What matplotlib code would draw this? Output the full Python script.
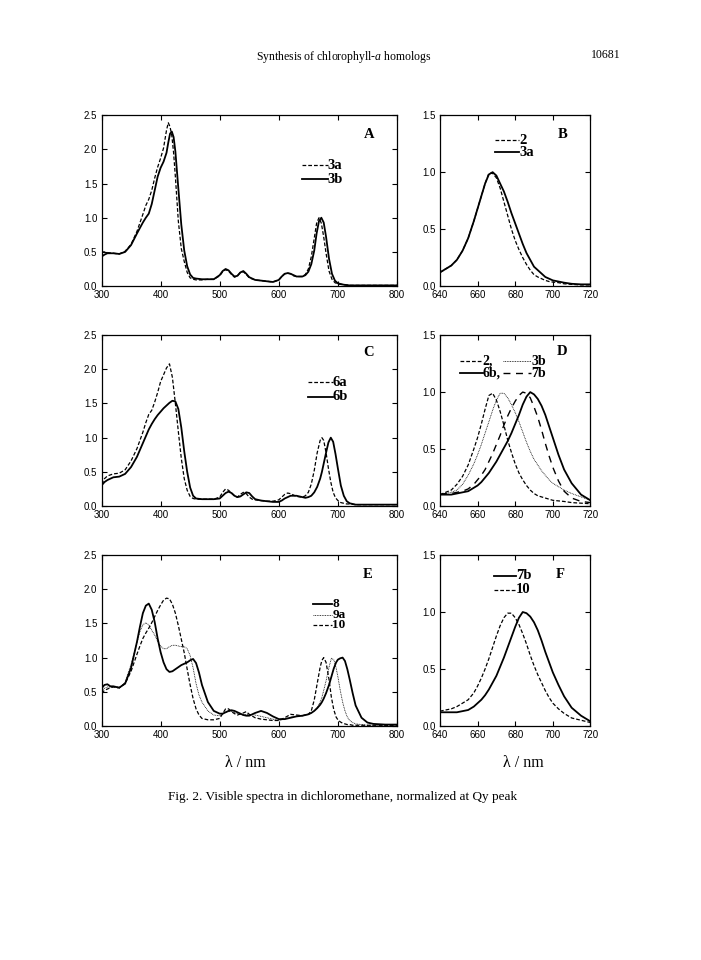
import matplotlib
matplotlib.use("Agg")
import matplotlib.pyplot as plt

plt.rcParams["mathtext.fontset"] = "custom"
plt.rcParams["mathtext.rm"] = "Liberation Serif"
plt.rcParams["mathtext.it"] = "Liberation Serif:italic"

# ---------------- data ----------------

# panel A
WL_A = [300, 305, 310, 320, 330, 340, 350, 360, 370, 375, 380, 385, 390, 395,
        400, 405, 410, 413, 416, 419, 422, 425, 430, 435, 440, 445, 450, 455,
        460, 470, 480, 490, 500, 505, 510, 515, 520, 525, 530, 535, 540, 545,
        550, 560, 570, 580, 590, 600, 605, 610, 615, 620, 625, 630, 640, 645,
        650, 655, 660, 664, 668, 672, 676, 680, 685, 690, 695, 700, 710, 720,
        740, 760, 780, 800]
A_3A = [0.50, 0.50, 0.49, 0.48, 0.47, 0.51, 0.61, 0.80, 1.05, 1.18, 1.27, 1.40, 1.58, 1.74,
        1.87, 2.02, 2.28, 2.39, 2.33, 2.20, 1.95, 1.60, 0.95, 0.55, 0.36, 0.20, 0.12, 0.10,
        0.09, 0.09, 0.10, 0.10, 0.15, 0.21, 0.24, 0.22, 0.17, 0.13, 0.15, 0.20, 0.21, 0.17,
        0.12, 0.09, 0.08, 0.07, 0.06, 0.09, 0.14, 0.18, 0.19, 0.18, 0.15, 0.14, 0.14, 0.17,
        0.25, 0.43, 0.70, 0.92, 1.00, 0.92, 0.72, 0.48, 0.22, 0.10, 0.05, 0.03, 0.02, 0.01,
        0.01, 0.01, 0.01, 0.01]
A_3B = [0.43, 0.46, 0.48, 0.48, 0.47, 0.50, 0.60, 0.77, 0.93, 1.00, 1.06, 1.20, 1.40, 1.60,
        1.73, 1.82, 1.95, 2.10, 2.23, 2.26, 2.18, 1.97, 1.43, 0.90, 0.52, 0.29, 0.17, 0.12,
        0.11, 0.10, 0.10, 0.10, 0.16, 0.22, 0.25, 0.23, 0.18, 0.14, 0.15, 0.20, 0.22, 0.18,
        0.13, 0.09, 0.08, 0.07, 0.06, 0.09, 0.14, 0.18, 0.19, 0.18, 0.16, 0.14, 0.14, 0.16,
        0.21, 0.32, 0.52, 0.77, 0.95, 1.00, 0.93, 0.72, 0.40, 0.18, 0.08, 0.04, 0.02, 0.01,
        0.01, 0.01, 0.01, 0.01]

# panel C
WL_C = [300, 305, 310, 320, 330, 340, 350, 360, 370, 375, 380, 385, 390, 395,
        400, 405, 410, 415, 420, 425, 430, 435, 440, 445, 450, 455, 460, 470,
        480, 490, 500, 505, 510, 515, 520, 525, 530, 535, 540, 545, 550, 555,
        560, 570, 580, 590, 600, 605, 610, 615, 620, 625, 630, 640, 645, 650,
        655, 660, 665, 670, 673, 676, 680, 684, 688, 692, 696, 700, 705, 710,
        715, 720, 730, 740, 760, 780, 800]
C_6A = [0.32, 0.40, 0.44, 0.47, 0.48, 0.53, 0.66, 0.84, 1.08, 1.22, 1.34, 1.40, 1.52, 1.66,
        1.82, 1.92, 2.02, 2.08, 1.88, 1.50, 1.09, 0.70, 0.40, 0.23, 0.14, 0.11, 0.10, 0.10,
        0.10, 0.10, 0.13, 0.20, 0.25, 0.23, 0.19, 0.15, 0.13, 0.17, 0.20, 0.18, 0.13, 0.10,
        0.09, 0.08, 0.07, 0.07, 0.09, 0.13, 0.17, 0.19, 0.18, 0.16, 0.14, 0.13, 0.15, 0.20,
        0.32, 0.52, 0.78, 0.96, 1.00, 0.96, 0.78, 0.55, 0.35, 0.20, 0.12, 0.08, 0.05, 0.04,
        0.03, 0.03, 0.02, 0.02, 0.02, 0.02, 0.02]
C_6B = [0.30, 0.35, 0.38, 0.42, 0.43, 0.47, 0.57, 0.72, 0.92, 1.02, 1.12, 1.20, 1.27, 1.33,
        1.38, 1.43, 1.47, 1.51, 1.54, 1.53, 1.42, 1.15, 0.80, 0.50, 0.27, 0.15, 0.11, 0.10,
        0.10, 0.10, 0.11, 0.15, 0.19, 0.21, 0.19, 0.15, 0.13, 0.14, 0.17, 0.20, 0.19, 0.14,
        0.10, 0.08, 0.07, 0.06, 0.06, 0.08, 0.11, 0.13, 0.15, 0.15, 0.15, 0.13, 0.12, 0.13,
        0.15, 0.20, 0.28, 0.40, 0.50, 0.62, 0.78, 0.93, 1.00, 0.94, 0.76, 0.55, 0.30, 0.15,
        0.07, 0.04, 0.02, 0.02, 0.02, 0.02, 0.02]

# panel E
WL_E = [300, 305, 310, 315, 320, 325, 330, 340, 350, 360, 365, 370, 375, 380,
        385, 390, 395, 400, 405, 410, 415, 420, 425, 430, 435, 440, 445, 450,
        455, 460, 465, 470, 480, 490, 500, 505, 510, 515, 520, 525, 530, 540,
        545, 550, 560, 570, 580, 590, 600, 610, 620, 630, 640, 650, 655, 660,
        665, 670, 673, 676, 680, 685, 689, 693, 697, 700, 704, 708, 712, 716,
        720, 725, 730, 740, 750, 760, 780, 800]
E_8 = [0.55, 0.60, 0.61, 0.58, 0.58, 0.57, 0.56, 0.62, 0.85, 1.23, 1.45, 1.65, 1.76, 1.79,
       1.70, 1.52, 1.28, 1.08, 0.93, 0.83, 0.79, 0.80, 0.83, 0.86, 0.89, 0.91, 0.93, 0.96,
       0.98, 0.92, 0.78, 0.60, 0.35, 0.22, 0.18, 0.18, 0.20, 0.22, 0.23, 0.22, 0.20, 0.16,
       0.15, 0.15, 0.19, 0.22, 0.19, 0.14, 0.10, 0.10, 0.12, 0.14, 0.15, 0.17, 0.19, 0.22,
       0.26, 0.31, 0.35, 0.40, 0.48, 0.60, 0.72, 0.84, 0.93, 0.97, 0.99, 1.00, 0.95, 0.83,
       0.68, 0.48, 0.30, 0.12, 0.05, 0.03, 0.02, 0.02]
E_9A = [0.52, 0.55, 0.57, 0.57, 0.57, 0.56, 0.55, 0.64, 0.90, 1.22, 1.38, 1.48, 1.51, 1.48,
        1.40, 1.33, 1.24, 1.17, 1.13, 1.13, 1.16, 1.18, 1.18, 1.17, 1.16, 1.16, 1.13, 1.03,
        0.85, 0.62, 0.45, 0.35, 0.22, 0.16, 0.15, 0.17, 0.20, 0.21, 0.21, 0.20, 0.18, 0.16,
        0.17, 0.17, 0.16, 0.14, 0.12, 0.10, 0.08, 0.10, 0.13, 0.14, 0.15, 0.17, 0.19, 0.22,
        0.27, 0.35, 0.42, 0.52, 0.66, 0.86, 0.99, 0.97, 0.85, 0.72, 0.52, 0.35, 0.22, 0.13,
        0.08, 0.05, 0.03, 0.02, 0.01, 0.01, 0.01, 0.01]
E_10 = [0.48, 0.52, 0.54, 0.56, 0.57, 0.57, 0.56, 0.62, 0.80, 1.05, 1.17, 1.28, 1.36, 1.43,
        1.51, 1.60, 1.69, 1.77, 1.84, 1.87, 1.86, 1.78, 1.65, 1.47, 1.27, 1.07, 0.83, 0.60,
        0.40, 0.25, 0.16, 0.11, 0.09, 0.09, 0.11, 0.18, 0.25, 0.25, 0.21, 0.18, 0.16, 0.19,
        0.21, 0.17, 0.12, 0.10, 0.09, 0.08, 0.08, 0.12, 0.17, 0.16, 0.15, 0.17, 0.22, 0.38,
        0.62, 0.86, 0.96, 1.00, 0.93, 0.68, 0.42, 0.24, 0.13, 0.09, 0.06, 0.04, 0.03, 0.02,
        0.02, 0.01, 0.01, 0.01, 0.01, 0.01, 0.01, 0.01]

# narrow Qy panels (B, D, F)
WL_Q = [640, 643, 646, 649, 652, 655, 658, 660, 662, 664, 666, 668, 670, 672, 674,
        676, 678, 680, 682, 684, 686, 688, 690, 692, 694, 696, 698, 700, 703, 706,
        710, 715, 720]
B_2 = [0.12, 0.15, 0.18, 0.23, 0.31, 0.42, 0.57, 0.68, 0.79, 0.90, 0.99, 0.99, 0.95, 0.86, 0.74,
       0.62, 0.50, 0.40, 0.32, 0.25, 0.19, 0.14, 0.10, 0.08, 0.065, 0.05, 0.04, 0.035, 0.03, 0.02,
       0.015, 0.01, 0.01]
B_3A = [0.12, 0.15, 0.18, 0.23, 0.31, 0.42, 0.57, 0.68, 0.79, 0.90, 0.98, 1.00, 0.97, 0.90, 0.83,
        0.74, 0.64, 0.55, 0.46, 0.37, 0.29, 0.23, 0.17, 0.14, 0.11, 0.08, 0.065, 0.05, 0.04, 0.03,
        0.02, 0.015, 0.015]
D_2 = [0.10, 0.12, 0.14, 0.19, 0.26, 0.36, 0.50, 0.60, 0.72, 0.85, 0.97, 0.99, 0.93, 0.83, 0.71,
       0.58, 0.47, 0.37, 0.29, 0.23, 0.18, 0.14, 0.11, 0.09, 0.08, 0.07, 0.06, 0.05, 0.045, 0.04,
       0.03, 0.025, 0.02]
D_3B = [0.10, 0.11, 0.12, 0.14, 0.19, 0.27, 0.37, 0.45, 0.54, 0.64, 0.74, 0.84, 0.93, 0.99, 0.99,
        0.95, 0.89, 0.82, 0.74, 0.65, 0.56, 0.48, 0.41, 0.36, 0.31, 0.27, 0.23, 0.20, 0.17, 0.14,
        0.11, 0.08, 0.05]
D_6B = [0.10, 0.10, 0.10, 0.11, 0.12, 0.13, 0.16, 0.18, 0.21, 0.25, 0.29, 0.34, 0.39, 0.45, 0.51,
        0.57, 0.64, 0.72, 0.80, 0.89, 0.96, 1.00, 0.98, 0.94, 0.88, 0.80, 0.70, 0.60, 0.45, 0.32,
        0.20, 0.10, 0.05]
D_7B = [0.10, 0.11, 0.11, 0.12, 0.13, 0.15, 0.19, 0.23, 0.27, 0.32, 0.39, 0.46, 0.54, 0.62, 0.71,
        0.79, 0.86, 0.92, 0.97, 1.00, 0.99, 0.95, 0.87, 0.78, 0.67, 0.55, 0.44, 0.34, 0.22, 0.13,
        0.07, 0.04, 0.03]
F_7B = [0.12, 0.12, 0.12, 0.12, 0.13, 0.14, 0.17, 0.20, 0.23, 0.27, 0.32, 0.38, 0.44, 0.52, 0.60,
        0.69, 0.78, 0.87, 0.95, 1.00, 0.99, 0.96, 0.91, 0.84, 0.75, 0.65, 0.56, 0.47, 0.36, 0.26,
        0.16, 0.09, 0.04]
F_10 = [0.13, 0.14, 0.15, 0.17, 0.20, 0.23, 0.29, 0.35, 0.42, 0.50, 0.59, 0.69, 0.79, 0.88, 0.95,
        0.99, 0.99, 0.95, 0.89, 0.81, 0.72, 0.62, 0.53, 0.45, 0.38, 0.31, 0.25, 0.20, 0.15, 0.11,
        0.07, 0.05, 0.03]

WIDE_TICKS = [300, 400, 500, 600, 700, 800]
NARROW_TICKS = [640, 660, 680, 700, 720]
WIDE_YTICKS = [0.0, 0.5, 1.0, 1.5, 2.0, 2.5]
NARROW_YTICKS = [0.0, 0.5, 1.0, 1.5]

# ---------------- styles ----------------
SOLID = dict(color="black", lw=1.3, ls="-")
DASH = dict(color="black", lw=0.9, ls=(0, (3.0, 1.6)))
DOT = dict(color="black", lw=0.6, ls=(0, (1.0, 1.0)))
LONGDASH = dict(color="black", lw=1.0, ls=(0, (5.0, 4.0)))

SANS = "Liberation Sans"
SERIF = "Liberation Serif"


def style_axes(ax, xlim, xticks, ylim, yticks):
    ax.set_xlim(*xlim)
    ax.set_ylim(*ylim)
    ax.set_xticks(xticks)
    ax.set_yticks(yticks)
    ax.set_xticklabels([str(t) for t in xticks], fontsize=7, family=SANS)
    ax.set_yticklabels([f"{t:.1f}" for t in yticks], fontsize=7, family=SANS)
    ax.tick_params(direction="in", top=True, right=True, length=3.5, width=0.8,
                   pad=3, colors="black")
    for s in ax.spines.values():
        s.set_linewidth(0.9)


def key(ax, x0, x1, y, style, label, size=10.5):
    # legend entry drawn by hand, like the original figure
    ax.plot([x0, x1], [y, y], transform=ax.transAxes, clip_on=False, **style)
    ax.text(x1, y, label, transform=ax.transAxes, fontsize=size, family=SERIF,
            fontweight="bold", va="center", ha="left")


def letter(ax, x, y, s):
    ax.text(x, y, s, transform=ax.transAxes, fontsize=10.5, family=SERIF,
            fontweight="bold", va="center", ha="center")


fig = plt.figure(figsize=(7.01, 9.60), dpi=100)

LW, WW = 0.1448, 0.4215
LN, WN = 0.6276, 0.2147
H = 0.178
ROWS = [0.702, 0.4729, 0.2438]

axA = fig.add_axes([LW, ROWS[0], WW, H])
axB = fig.add_axes([LN, ROWS[0], WN, H])
axC = fig.add_axes([LW, ROWS[1], WW, H])
axD = fig.add_axes([LN, ROWS[1], WN, H])
axE = fig.add_axes([LW, ROWS[2], WW, H])
axF = fig.add_axes([LN, ROWS[2], WN, H])

# A
axA.plot(WL_A, A_3A, **DASH)
axA.plot(WL_A, A_3B, **SOLID)
style_axes(axA, (300, 800), WIDE_TICKS, (0, 2.5), WIDE_YTICKS)
key(axA, 0.68, 0.765, 0.706, DASH, "3a")
key(axA, 0.68, 0.765, 0.624, SOLID, "3b")
letter(axA, 0.905, 0.888, "A")

# B
axB.plot(WL_Q, B_2, **DASH)
axB.plot(WL_Q, B_3A, **SOLID)
style_axes(axB, (640, 720), NARROW_TICKS, (0, 1.5), NARROW_YTICKS)
key(axB, 0.367, 0.527, 0.853, DASH, "2")
key(axB, 0.367, 0.527, 0.782, SOLID, "3a")
letter(axB, 0.813, 0.888, "B")

# C
axC.plot(WL_C, C_6A, **DASH)
axC.plot(WL_C, C_6B, **SOLID)
style_axes(axC, (300, 800), WIDE_TICKS, (0, 2.5), WIDE_YTICKS)
key(axC, 0.698, 0.783, 0.725, DASH, "6a")
key(axC, 0.698, 0.783, 0.639, SOLID, "6b")
letter(axC, 0.905, 0.9, "C")

# D
axD.plot(WL_Q, D_2, **DASH)
axD.plot(WL_Q, D_3B, **DOT)
axD.plot(WL_Q, D_6B, **SOLID)
axD.plot(WL_Q, D_7B, **LONGDASH)
style_axes(axD, (640, 720), NARROW_TICKS, (0, 1.5), NARROW_YTICKS)
key(axD, 0.132, 0.285, 0.847, DASH, "2,", 10)
key(axD, 0.417, 0.605, 0.847, DOT, "3b", 10)
key(axD, 0.132, 0.285, 0.776, SOLID, "6b,", 10)
key(axD, 0.417, 0.605, 0.776, LONGDASH, "7b", 10)
letter(axD, 0.808, 0.906, "D")

# E
axE.plot(WL_E, E_8, **SOLID)
axE.plot(WL_E, E_9A, **DOT)
axE.plot(WL_E, E_10, **DASH)
style_axes(axE, (300, 800), WIDE_TICKS, (0, 2.5), WIDE_YTICKS)
key(axE, 0.717, 0.781, 0.712, SOLID, "8", 9.5)
key(axE, 0.717, 0.781, 0.650, DOT, "9a", 9.5)
key(axE, 0.717, 0.781, 0.588, DASH, "10", 9.5)
letter(axE, 0.899, 0.884, "E")

# F
axF.plot(WL_Q, F_7B, **SOLID)
axF.plot(WL_Q, F_10, **DASH)
style_axes(axF, (640, 720), NARROW_TICKS, (0, 1.5), NARROW_YTICKS)
key(axF, 0.36, 0.507, 0.879, SOLID, "7b")
key(axF, 0.36, 0.507, 0.798, DASH, "10")
letter(axF, 0.80, 0.884, "F")

# page text
fig.text(0.35, 0.205, "λ / nm", fontsize=11.5, family=SERIF, ha="center", va="center")
fig.text(0.746, 0.205, "λ / nm", fontsize=11.5, family=SERIF, ha="center", va="center")
fig.text(0.491, 0.9406, "Synthesis of chlorophyll-$\\mathit{a}$ homologs", fontsize=8.5,
         family=SERIF, ha="center", va="center")
fig.text(0.864, 0.9425, "10681", fontsize=8.5, family=SERIF, ha="center", va="center")
fig.text(0.489, 0.170, "Fig. 2. Visible spectra in dichloromethane, normalized at Qy peak",
         fontsize=9.5, family=SERIF, ha="center", va="center")

fig.savefig("out.png", dpi=100, facecolor="white")
